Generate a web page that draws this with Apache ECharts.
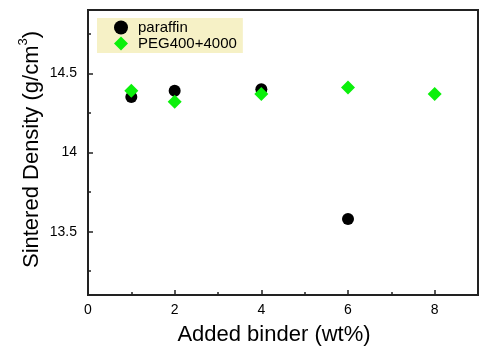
<!DOCTYPE html>
<html>
<head>
<meta charset="utf-8">
<script src="https://cdn.jsdelivr.net/npm/echarts@6/dist/echarts.min.js"></script>
<style>
  html, body { margin: 0; padding: 0; background: #fff; }
  #chart { width: 499px; height: 356px; }
</style>
</head>
<body>
<div id="chart"></div>
<script>
// binder content (wt%) and sintered density (g/cm3)
const paraffinX = [1, 2, 4, 6];
const paraffinY = [14.35, 14.39, 14.40, 13.58];
const pegX = [1, 2, 4, 6, 8];
const pegY = [14.39, 14.32, 14.37, 14.41, 14.37];

const xLabels = [0, 2, 4, 6, 8];
const xMinor = [1, 3, 5, 7];
const yLabels = [13.5, 14, 14.5];
const yMinor = [13.25, 13.75, 14.25, 14.75];

const font = "Liberation Sans, Arial, sans-serif";

const chart = echarts.init(document.getElementById("chart"), null, { renderer: "canvas" });

chart.setOption({
  animation: false,
  grid: {
    left: 88, right: 21, top: 10, bottom: 61,
    outerBoundsMode: "none",
    show: true,
    borderColor: "#222",
    borderWidth: 2,
    backgroundColor: "transparent"
  },
  legend: {
    left: 97, top: 18,
    orient: "vertical",
    backgroundColor: "#f6f1c6",
    padding: [2, 6, 2, 17],
    itemGap: 1,
    itemWidth: 14,
    itemHeight: 14,
    textStyle: { fontFamily: font, fontSize: 15, color: "#000", padding: [0, 0, 0, 5] },
    data: [
      { name: "paraffin", icon: "circle" },
      { name: "PEG400+4000", icon: "diamond" }
    ]
  },
  xAxis: [
    {
      type: "value", min: 0, max: 9, position: "bottom",
      axisLine: { show: true, lineStyle: { color: "#222", width: 2 } },
      axisTick: { show: true, inside: true, length: 5, customValues: xLabels, lineStyle: { color: "#222", width: 1.5 } },
      axisLabel: { customValues: xLabels, fontFamily: font, fontSize: 14, color: "#000", margin: 8 },
      splitLine: { show: false },
      name: "Added binder (wt%)",
      nameLocation: "middle",
      nameGap: 29,
      nameTextStyle: { fontFamily: font, fontSize: 22, color: "#000", padding: [0, 18, 0, 0] }
    },
    {
      type: "value", min: 0, max: 9, position: "bottom",
      axisLine: { show: false },
      axisTick: { show: true, inside: true, length: 3, customValues: xMinor, lineStyle: { color: "#222", width: 1.5 } },
      axisLabel: { show: false },
      splitLine: { show: false }
    }
  ],
  yAxis: [
    {
      type: "value", min: 13.1, max: 14.9, position: "left",
      axisLine: { show: true, lineStyle: { color: "#222", width: 2 } },
      axisTick: { show: true, inside: true, length: 5, customValues: yLabels, lineStyle: { color: "#222", width: 1.5 } },
      axisLabel: { customValues: yLabels, fontFamily: font, fontSize: 14, color: "#000", margin: 11 },
      splitLine: { show: false },
      name: "{a|Sintered Density (g/cm}{s|3}{a|)}",
      nameLocation: "middle",
      nameRotate: 90,
      nameGap: 45,
      nameMoveOverlap: false,
      nameTextStyle: {
        padding: [0, 0, 0, 6],
        rich: {
          a: { fontFamily: font, fontSize: 22, color: "#000", lineHeight: 26, verticalAlign: "bottom" },
          s: { fontFamily: font, fontSize: 13, color: "#000", lineHeight: 26, verticalAlign: "top" }
        }
      }
    },
    {
      type: "value", min: 13.1, max: 14.9, position: "left",
      axisLine: { show: false },
      axisTick: { show: true, inside: true, length: 3, customValues: yMinor, lineStyle: { color: "#222", width: 1.5 } },
      axisLabel: { show: false },
      splitLine: { show: false }
    }
  ],
  series: [
    {
      name: "paraffin",
      type: "scatter",
      symbol: "circle",
      symbolSize: 12,
      itemStyle: { color: "#000", opacity: 1 },
      data: paraffinX.map((x, i) => [x, paraffinY[i]])
    },
    {
      name: "PEG400+4000",
      type: "scatter",
      symbol: "diamond",
      symbolSize: 14,
      itemStyle: { color: "#0bf00b", opacity: 1 },
      data: pegX.map((x, i) => [x, pegY[i]])
    }
  ]
});
</script>
</body>
</html>
